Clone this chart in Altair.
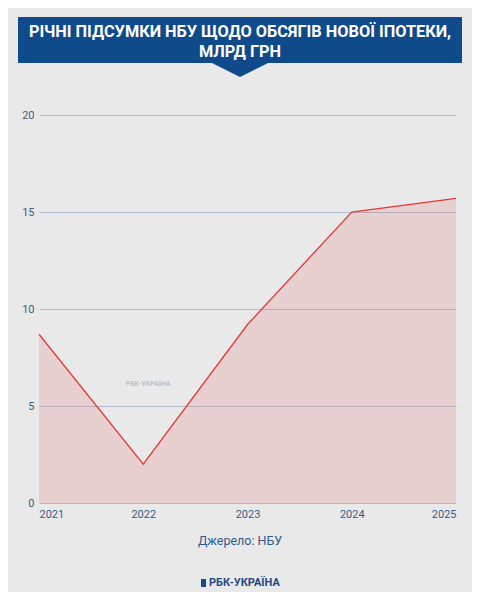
import altair as alt
import pandas as pd

years = [2021, 2022, 2023, 2024, 2025]
values = [8.7, 2.0, 9.2, 15.0, 15.7]
y_ticks = [0, 5, 10, 15, 20]
title_lines = ["РІЧНІ ПІДСУМКИ НБУ ЩОДО ОБСЯГІВ НОВОЇ ІПОТЕКИ,", "МЛРД ГРН"]
source_text = "Джерело: НБУ"
logo_text = "РБК-УКРАЇНА"

df = pd.DataFrame({"year": years, "value": values})
one = pd.DataFrame({"a": [0]})

BG = "#e9e9ea"
BLUE = "#0f4a8a"
RED = "#e53935"
FONT = "Roboto"

x = alt.X("year:Q", scale=alt.Scale(domain=[2021, 2025], nice=False),
          axis=alt.Axis(values=years, format="d", grid=False, ticks=False, domain=False,
                        labelFlush=True, labelPadding=5, labelFontSize=11,
                        labelColor="#3c5a85", labelFont=FONT, title=None))
y = alt.Y("value:Q", scale=alt.Scale(domain=[0, 20], nice=False),
          axis=alt.Axis(values=y_ticks, grid=True, gridColor="#b0bccd", gridWidth=1,
                        ticks=False, domain=False, labelPadding=5, labelFontSize=11,
                        labelColor="#3c5a85", labelFont=FONT, title=None))

area = alt.Chart(df).mark_area(color=RED, opacity=0.14).encode(x=x, y=y)
line = alt.Chart(df).mark_line(color=RED, strokeWidth=1.3).encode(x=x, y=y)

box = alt.Chart(one).mark_rect(color=BLUE).encode(
    x=alt.value(-21), x2=alt.value(423), y=alt.value(-98), y2=alt.value(-52))
arrow = alt.Chart(one).mark_point(
    shape="M-1,0L1,0L0,0.5Z", filled=True, color=BLUE, opacity=1, size=3600, strokeWidth=0
).encode(x=alt.value(201), y=alt.value(-53))

t1 = alt.Chart(one).mark_text(text=title_lines[0], font=FONT, fontSize=16.3, fontWeight="bold",
                              color="white", align="center", baseline="middle").encode(
    x=alt.value(201), y=alt.value(-83))
t2 = alt.Chart(one).mark_text(text=title_lines[1], font=FONT, fontSize=16.3, fontWeight="bold",
                              color="white", align="center", baseline="middle").encode(
    x=alt.value(201), y=alt.value(-63))

src = alt.Chart(one).mark_text(text=source_text, font=FONT, fontSize=12.5, color="#2e5b8e",
                               align="center", baseline="middle").encode(
    x=alt.value(201), y=alt.value(426))
logo = alt.Chart(one).mark_text(text=logo_text, font=FONT, fontSize=11, fontWeight="bold",
                                color="#1c4a80", align="left", baseline="middle").encode(
    x=alt.value(170), y=alt.value(468))
icon = alt.Chart(one).mark_rect(color="#1c4a80").encode(
    x=alt.value(162), x2=alt.value(167), y=alt.value(464), y2=alt.value(472))
wm = alt.Chart(one).mark_text(text=logo_text, font=FONT, fontSize=7, fontWeight="bold",
                              color="#9aaac0", opacity=0.6, align="center", baseline="middle").encode(
    x=alt.value(109), y=alt.value(269))

chart = alt.layer(area, line, wm, box, arrow, t1, t2, src, icon, logo).properties(
    width=417, height=388,
    padding={"left": 31, "top": 107, "right": 16, "bottom": 89},
    autosize=alt.AutoSizeParams(type="none"),
    background=BG,
).configure_view(stroke=None)

chart.save("out.html", embed_options={"renderer": "svg", "actions": False})
